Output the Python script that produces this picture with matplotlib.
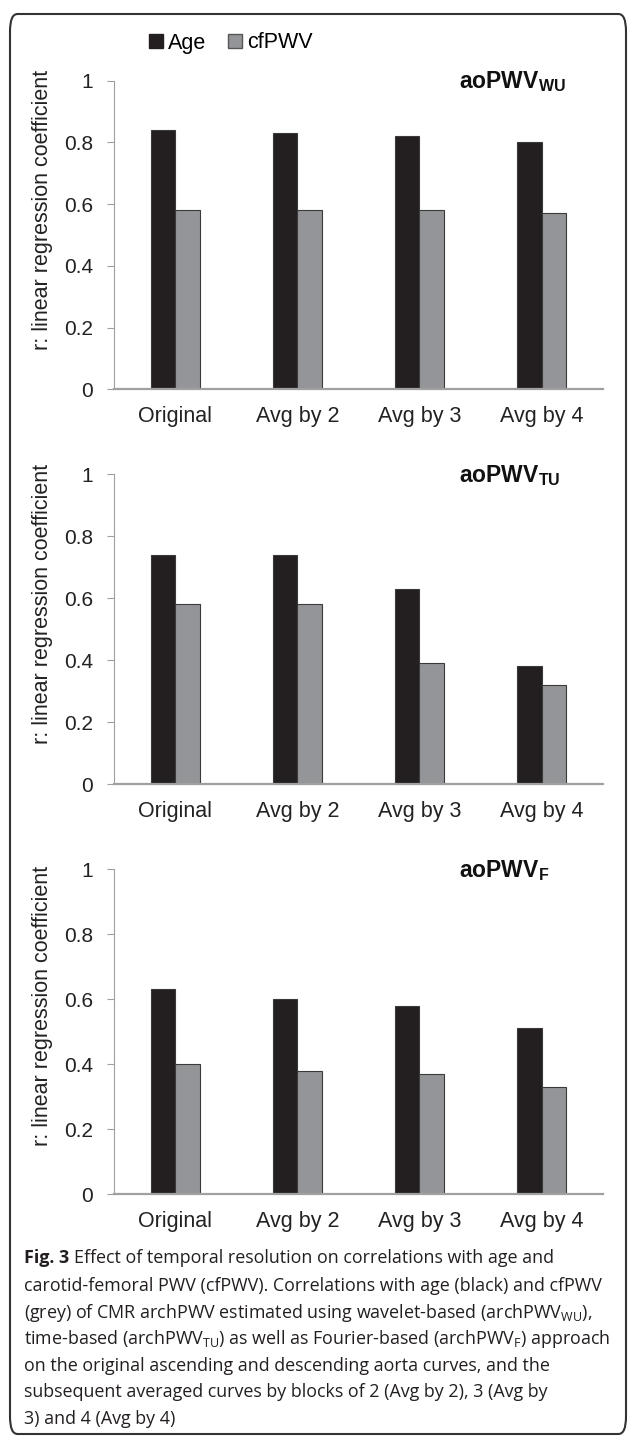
import matplotlib
matplotlib.use("Agg")
import matplotlib.pyplot as plt
from matplotlib.patches import FancyBboxPatch, Patch
import numpy as np

plt.rcParams["font.family"] = ["Liberation Sans", "DejaVu Sans"]
plt.rcParams["mathtext.fontset"] = "custom"
plt.rcParams["mathtext.rm"] = "Open Sans"
plt.rcParams["mathtext.bf"] = "Liberation Sans:bold"

# data
categories = ["Original", "Avg by 2", "Avg by 3", "Avg by 4"]
series_names = ["Age", "cfPWV"]
panel_titles = [r"$\mathbf{aoPWV}_{\mathbf{WU}}$",
                r"$\mathbf{aoPWV}_{\mathbf{TU}}$",
                r"$\mathbf{aoPWV}_{\mathbf{F}}$"]
age_wu = [0.84, 0.83, 0.82, 0.80]
cf_wu = [0.58, 0.58, 0.58, 0.57]
age_tu = [0.74, 0.74, 0.63, 0.38]
cf_tu = [0.58, 0.58, 0.39, 0.32]
age_f = [0.63, 0.60, 0.58, 0.51]
cf_f = [0.40, 0.38, 0.37, 0.33]
yticks = [0, 0.2, 0.4, 0.6, 0.8, 1]
ytick_labels = ["0", "0.2", "0.4", "0.6", "0.8", "1"]

BLACK = "#231f20"
GREY = "#939598"
AXC = "#a0a0a0"

W, H = 629, 1437
fig = plt.figure(figsize=(W / 100, H / 100), dpi=100)

# rounded frame
frame = FancyBboxPatch((10 / W, 3 / H), 616 / W, 1420 / H,
                       boxstyle="round,pad=0,rounding_size=0.012",
                       transform=fig.transFigure, fill=False,
                       edgecolor="#333333", linewidth=1.5)
fig.patches.append(frame)

# axes boxes: (left px, top px, right px, bottom px)
boxes = [(114, 80.7, 602.7, 389.3),
         (114, 474.3, 602.7, 784),
         (114, 869, 602.7, 1194.3)]
data = [(age_wu, cf_wu), (age_tu, cf_tu), (age_f, cf_f)]

x = np.arange(len(categories))
bw = 0.2
for (l, t, r, b), (age, cf), title in zip(boxes, data, panel_titles):
    ax = fig.add_axes([l / W, 1 - b / H, (r - l) / W, (b - t) / H])
    ax.bar(x - bw / 2, age, bw, color=BLACK, edgecolor="#3a3a3a", linewidth=0.8)
    ax.bar(x + bw / 2, cf, bw, color=GREY, edgecolor="#3a3a3a", linewidth=0.8)
    ax.set_xlim(-0.5, 3.5)
    ax.set_ylim(0, 1)
    ax.set_xticks(x)
    ax.set_xticklabels(categories, fontsize=15.5, color="#222222")
    ax.set_yticks(yticks)
    ax.set_yticklabels(ytick_labels, fontsize=15, color="#222222")
    ax.tick_params(axis="x", length=0, pad=12)
    ax.tick_params(axis="y", length=5, width=0.8, color=AXC, pad=10)
    for s in ["top", "right"]:
        ax.spines[s].set_visible(False)
    ax.spines["left"].set_color(AXC)
    ax.spines["left"].set_linewidth(0.8)
    ax.spines["bottom"].set_color(AXC)
    ax.spines["bottom"].set_linewidth(1.6)
    ax.text(0.705, 0.975, title, transform=ax.transAxes, fontsize=16.5,
            ha="left", va="baseline", color="#111111")
    ax.text(-0.146, 0.58, "r: linear regression coefficient",
            transform=ax.transAxes, rotation=90, ha="center", va="center",
            fontsize=15.5, color="#222222")

# legend
handles = [Patch(facecolor=BLACK, edgecolor=BLACK),
           Patch(facecolor=GREY, edgecolor="#555555")]
fig.legend(handles, series_names, loc="center left",
           bbox_to_anchor=(140 / W, 1 - 43 / H), ncol=2, frameon=False,
           fontsize=15.5, handlelength=0.65, handleheight=0.65,
           handletextpad=0.25, columnspacing=1.0, borderaxespad=0)

# caption
cap_lines = [
    r"Effect of temporal resolution on correlations with age and",
    r"carotid-femoral PWV (cfPWV). Correlations with age (black) and cfPWV",
    r"(grey) of CMR archPWV estimated using wavelet-based (archPWV$_{\mathrm{WU}}$),",
    r"time-based (archPWV$_{\mathrm{TU}}$) as well as Fourier-based (archPWV$_{\mathrm{F}}$) approach",
    r"on the original ascending and descending aorta curves, and the",
    r"subsequent averaged curves by blocks of 2 (Avg by 2), 3 (Avg by",
    r"3) and 4 (Avg by 4)",
]
cap_y = [1258, 1286, 1313, 1339, 1366, 1392, 1419]
cap_font = dict(family=["Open Sans", "DejaVu Sans"], fontsize=12.9,
                color="#231f20")
t0 = fig.text(24 / W, 1 - cap_y[0] / H, "Fig. 3", fontweight="bold",
              va="center", ha="left", **cap_font)
fig.canvas.draw()
bb = t0.get_window_extent()
fig.text((bb.x1 + 5) / W, 1 - cap_y[0] / H, cap_lines[0], va="center",
         ha="left", **cap_font)
for line, y in zip(cap_lines[1:], cap_y[1:]):
    fig.text(24 / W, 1 - y / H, line, va="center", ha="left", **cap_font)

fig.savefig("out.png", dpi=100)
